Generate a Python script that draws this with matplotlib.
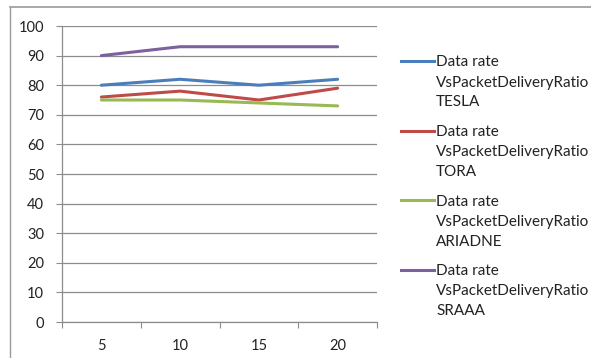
import matplotlib
matplotlib.use("Agg")
import matplotlib.pyplot as plt
from matplotlib.lines import Line2D

plt.rcParams['font.family'] = ['Lato', 'DejaVu Sans']

categories = ["5", "10", "15", "20"]
series_names = [
    "Data rate\nVsPacketDeliveryRatio\nTESLA",
    "Data rate\nVsPacketDeliveryRatio\nTORA",
    "Data rate\nVsPacketDeliveryRatio\nARIADNE",
    "Data rate\nVsPacketDeliveryRatio\nSRAAA",
]
tesla = [80, 82, 80, 82]
tora = [76, 78, 75, 79]
ariadne = [75, 75, 74, 73]
sraaa = [90, 93, 93, 93]
colors = ["#4A7EBB", "#BE4B48", "#98B954", "#7D60A0"]
y_ticks = [0, 10, 20, 30, 40, 50, 60, 70, 80, 90, 100]

W, H = 591, 358
fig = plt.figure(figsize=(W / 100, H / 100), dpi=100)
ax = fig.add_axes([62 / W, 1 - 322 / H, (377 - 62) / W, (322 - 26) / H])

grid_c = "#8c8c8c"
text_c = "#222222"
x = list(range(len(categories)))
for vals, name, c in zip([tesla, tora, ariadne, sraaa], series_names, colors):
    ax.plot(x, vals, color=c, lw=2.2, label=name, solid_capstyle="round")

ax.set_xlim(-0.5, len(categories) - 0.5)
ax.set_ylim(0, 100)
ax.set_yticks(y_ticks)
ax.yaxis.grid(True, color=grid_c, lw=0.9)
ax.set_axisbelow(True)

# category boundaries carry the tick marks, centres carry the labels
ax.set_xticks([i - 0.5 for i in range(len(categories) + 1)])
ax.set_xticklabels([])
ax.set_xticks(x, minor=True)
ax.set_xticklabels(categories, minor=True)
ax.tick_params(axis="x", which="major", length=4, color=grid_c, direction="out")
ax.tick_params(axis="x", which="minor", length=0, pad=12, labelsize=10.5, labelcolor=text_c)
ax.tick_params(axis="y", length=4, color=grid_c, pad=9, labelsize=10.5, labelcolor=text_c)

for s in ["top", "right"]:
    ax.spines[s].set_visible(False)
for s in ["left", "bottom"]:
    ax.spines[s].set_color(grid_c)
    ax.spines[s].set_linewidth(0.9)

# legend: handle beside the first line of each three-line label
line_h = 20
entry_h = 69.5
for i, (name, c) in enumerate(zip(series_names, colors)):
    y0 = 61 + i * entry_h
    fig.add_artist(Line2D([401 / W, 434 / W], [1 - y0 / H] * 2, color=c, lw=2.2,
                          transform=fig.transFigure))
    for k, part in enumerate(name.split("\n")):
        fig.text(436 / W, 1 - (y0 + 5.5 + k * line_h) / H, part, fontsize=11,
                 color=text_c, ha="left", va="baseline")

# chart frame
fig.add_artist(Line2D([10 / W, 10 / W], [0, 1 - 7 / H], color="#9a9a9a", lw=1.0,
                      transform=fig.transFigure))
fig.add_artist(Line2D([10 / W, 1], [1 - 7 / H, 1 - 7 / H], color="#9a9a9a", lw=1.2,
                      transform=fig.transFigure))

fig.savefig("out.png", dpi=100)
